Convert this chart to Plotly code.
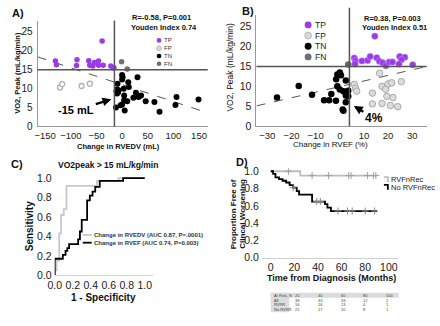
import plotly.graph_objects as go
import numpy as np

W, H = 440, 326
def px(x): return x / W
def py(y): return 1 - y / H

FONT = "Liberation Sans, Arial, sans-serif"
PURPLE = "#9b3be8"

# ---------------- Panel A data ----------------
a_tp_x = [-130, -128, -88, -89, -65, -63, -57, -54, -46, -46, -37, -39, -22, -18, -16]
a_tp_y = [17.3, 16.3, 17.6, 16.1, 17.4, 16.2, 16.0, 16.9, 17.3, 16.2, 16.2, 22.6, 16.0, 15.5, 15.5]
a_fp_x = [-121, -117, -79, -63]
a_fp_y = [10.3, 11.2, 10.7, 11.3]
a_tn_x = [0, 1, 0, 30, 12, -9, 13, 3, -10, -11, -8, -10, -7, 4, 27, 32, 37, 22, 10, 4, 0, -3, 5, 63, 73, 106, 104, 149, -12, 46]
a_tn_y = [13.6, 13.0, 12.4, 13.0, 11.7, 11.3, 10.4, 10.0, 9.8, 9.3, 9.0, 8.7, 9.6, 8.2, 8.9, 7.8, 8.2, 7.6, 6.7, 6.9, 5.8, 5.6, 4.2, 6.5, 3.9, 7.8, 5.7, 7.1, 5.0, 6.7]
a_fn_x = [-1, 10]
a_fn_y = [17.1, 15.2]
a_fit_x = [-165, 167]
a_fit_y = [18.4, 3.6]
a_thr_x, a_thr_y = -15, 15
a_xticks = [-150, -100, -50, 0, 50, 100, 150]
a_yticks = [0, 5, 10, 15, 20, 25]

# ---------------- Panel B data ----------------
b_tp_x = [14.5, 6, 6.5, 6.3, 9.2, 11.5, 12.6, 15.3, 16.4, 17.8, 19.1, 20.5, 21.8, 24.8, 26.9, 25.5, 24.5, 30.2]
b_tp_y = [22.6, 17.1, 16.4, 15.6, 16.4, 16.5, 17.5, 17.2, 16.3, 15.9, 15.2, 16.1, 16.1, 17.5, 17.3, 16.7, 15.6, 15.4]
b_fp_x = [6, 6.5, 7, 16.5, 13.5, 17.5, 19, 20, 21.5, 19.5, 25.5, 22, 13.5, 17.5, 21, 24]
b_fp_y = [10.5, 9.5, 8.8, 13.3, 8.3, 10.0, 9.3, 10.6, 10.9, 7.5, 11.2, 7.2, 5.6, 5.7, 5.2, 4.9]
b_tn_x = [-26, -17, -11.5, -6.5, -4.4, -3.5, -1.6, -1, -1, 0, 0.5, -1.5, 2.5, 0, 1.5, 2.5, 3.5, 2.5, 3.5, 2.5, 1.2, 1.5]
b_tn_y = [7.2, 10.1, 7.9, 6.5, 6.5, 8.1, 6.4, 10.0, 13.0, 13.5, 12.8, 11.8, 11.5, 9.2, 8.8, 8.6, 8.9, 7.7, 7.5, 6.0, 4.2, 3.9]
b_fn_x = [3.5]
b_fn_y = [15.5]
b_fit_x = [-34.5, 36]
b_fit_y = [5.1, 15.0]
b_thr_x, b_thr_y = 4, 15
b_xticks = [-30, -20, -10, 0, 10, 20, 30]
b_yticks = [0, 5, 10, 15, 20, 25]

# ---------------- Panel C data (ROC) ----------------
c_edv_fpr = [0, 0.02, 0.05, 0.07, 0.10, 0.13, 0.47, 0.71, 1.0]
c_edv_tpr = [0, 0.05, 0.15, 0.43, 0.62, 0.68, 0.92, 0.97, 1.0]
c_ef_fpr = [0, 0.09, 0.12, 0.14, 0.16, 0.26, 0.28, 0.30, 0.36, 0.39, 0.42, 0.45, 0.50, 0.76, 1.0]
c_ef_tpr = [0, 0.17, 0.21, 0.25, 0.28, 0.32, 0.37, 0.45, 0.57, 0.77, 0.82, 0.86, 0.91, 0.97, 1.0]
c_ticks = [0, 0.2, 0.4, 0.6, 0.8, 1.0]

# ---------------- Panel D data (Kaplan-Meier) ----------------
d_rec_t = [0, 25, 90]
d_rec_s = [1.0, 0.95, 0.95]
d_rec_cens = [15, 35, 49, 66, 68, 82, 87, 89]
d_no_t = [0, 2, 4, 7, 10, 13, 16, 19, 22, 24, 35, 46, 48, 51, 90]
d_no_s = [1.0, 0.97, 0.93, 0.91, 0.89, 0.87, 0.84, 0.81, 0.77, 0.73, 0.65, 0.62, 0.58, 0.54, 0.54]
d_no_cens = [19, 39, 42, 57, 65, 69, 80, 88]
d_xticks = [0, 20, 40, 60, 80, 100]
d_yticks = [0, 0.2, 0.4, 0.6, 0.8, 1.0]
risk_times = [20, 40, 60, 80, 100]
risk_all = [38, 33, 33, 12, 2]
risk_rvrr = [16, 16, 13, 4, 1]
risk_norvrr = [22, 17, 20, 8, 1]

def step_at(ts, ss, t):
    i = int(np.searchsorted(ts, t, side="right")) - 1
    return ss[max(i, 0)]

fig = go.Figure()

def scat(x, y, ax, **kw):
    fig.add_trace(go.Scatter(x=x, y=y, xaxis="x" + ax, yaxis="y" + ax, showlegend=False,
                             hoverinfo="skip", **kw))

# Panel A
scat(a_fit_x, a_fit_y, "", mode="lines", line=dict(color="#555", width=1, dash="dash"))
scat(a_fp_x, a_fp_y, "", mode="markers", marker=dict(size=5, color="white", line=dict(color="#b0b0b0", width=1.3)))
scat(a_tp_x, a_tp_y, "", mode="markers", marker=dict(size=5.5, color=PURPLE))
scat(a_tn_x, a_tn_y, "", mode="markers", marker=dict(size=6, color="black"))
scat(a_fn_x, a_fn_y, "", mode="markers", marker=dict(size=5.5, color="#707070"))

# Panel B
scat(b_fit_x, b_fit_y, "2", mode="lines", line=dict(color="#555", width=1, dash="dash"))
scat(b_fp_x, b_fp_y, "2", mode="markers", marker=dict(size=6.5, color="#dcdcdc", line=dict(color="#a8a8a8", width=1)))
scat(b_tp_x, b_tp_y, "2", mode="markers", marker=dict(size=6.5, color=PURPLE, line=dict(color="#c9a0f5", width=0.5)))
scat(b_tn_x, b_tn_y, "2", mode="markers", marker=dict(size=6.5, color="black"))
scat(b_fn_x, b_fn_y, "2", mode="markers", marker=dict(size=6.5, color="#666"))

# Panel C
scat(c_edv_fpr, c_edv_tpr, "3", mode="lines", line=dict(color="#c8c8c8", width=1.8, shape="vh"))
scat(c_ef_fpr, c_ef_tpr, "3", mode="lines", line=dict(color="black", width=1.8, shape="vh"))

# Panel D
scat(d_rec_t, d_rec_s, "4", mode="lines", line=dict(color="#bdbdbd", width=1.8, shape="hv"))
scat(d_no_t, d_no_s, "4", mode="lines", line=dict(color="black", width=1.8, shape="hv"))
scat(d_rec_cens, [step_at(d_rec_t, d_rec_s, t) for t in d_rec_cens], "4", mode="markers",
     marker=dict(symbol="cross-thin", size=5, line=dict(color="#a0a0a0", width=1)))
scat(d_no_cens, [step_at(d_no_t, d_no_s, t) for t in d_no_cens], "4", mode="markers",
     marker=dict(symbol="cross-thin", size=5, line=dict(color="#888", width=1)))

tickfont = dict(family=FONT, size=10, color="#1a1a1a")
def xax(dom, rng, ticks, line_color="#999", fmt=None, size=10):
    d = dict(domain=[px(dom[0]), px(dom[1])], range=rng, tickvals=ticks, showgrid=False, zeroline=False,
             showline=True, linecolor=line_color, linewidth=1, ticks="", tickfont=dict(tickfont, size=size),
             ticklabelstandoff=0, fixedrange=True)
    if fmt: d["tickformat"] = fmt
    return d
def yax(dom, rng, ticks, showline=True, fmt=None, size=10):
    d = dict(domain=[py(dom[1]), py(dom[0])], range=rng, tickvals=ticks, showgrid=False, zeroline=False,
             showline=showline, linecolor="#999", linewidth=1, ticks="", tickfont=dict(tickfont, size=size),
             ticklabelstandoff=2, fixedrange=True)
    if fmt: d["tickformat"] = fmt
    return d

fig.update_layout(
    width=W, height=H, margin=dict(l=0, r=0, t=0, b=0),
    paper_bgcolor="white", plot_bgcolor="white", showlegend=False,
    font=dict(family=FONT, color="#111"),
    xaxis=dict(**xax((31, 204), [-165, 167], a_xticks, size=9.5), anchor="y"),
    yaxis=dict(**yax((18, 127), [0, 28], a_yticks), anchor="x"),
    xaxis2=dict(**xax((253.5, 426.5), [-34.5, 36], b_xticks, size=9.5), anchor="y2"),
    yaxis2=dict(**yax((12, 126.7), [0, 28], b_yticks, size=10.5), anchor="x2"),
    xaxis3=dict(**xax((48.5, 148), [0, 1.088], c_ticks, line_color="#d0d0d0", fmt=".1f", size=10.5), anchor="y3"),
    yaxis3=dict(**yax((175, 280), [0, 1.05], c_ticks, showline=False, fmt=".1f", size=10.5), anchor="x3"),
    xaxis4=dict(**xax((259, 397), [-7.5, 107.5], d_xticks, line_color="#d0d0d0", size=10.5), anchor="y4"),
    yaxis4=dict(**yax((170, 262), [0, 1.034], d_yticks, showline=False, fmt=".1f", size=10.5), anchor="x4"),
)

shapes = []
# threshold lines A
shapes.append(dict(type="line", xref="x", yref="paper", x0=a_thr_x, x1=a_thr_x, y0=py(127), y1=py(18),
                   line=dict(color="#555", width=1.5)))
shapes.append(dict(type="line", xref="paper", yref="y", x0=px(31), x1=px(204), y0=a_thr_y, y1=a_thr_y,
                   line=dict(color="#555", width=1.5)))
# threshold lines B
shapes.append(dict(type="line", xref="x2", yref="paper", x0=b_thr_x, x1=b_thr_x, y0=py(126.7), y1=py(5),
                   line=dict(color="#555", width=1.5)))
shapes.append(dict(type="line", xref="paper", yref="y2", x0=px(253.5), x1=px(426.5), y0=b_thr_y, y1=b_thr_y,
                   line=dict(color="#555", width=1.5)))

def circ(cx, cy, r, fill, edge=None, lw=0):
    shapes.append(dict(type="circle", xref="paper", yref="paper", x0=px(cx - r), x1=px(cx + r),
                       y0=py(cy + r), y1=py(cy - r), fillcolor=fill,
                       line=dict(color=edge or fill, width=lw)))

ann = []
def txt(x, y, s, size, bold=False, xanchor="center", color="#111", angle=0, yanchor="middle"):
    ann.append(dict(x=px(x), y=py(y), xref="paper", yref="paper", text=("<b>%s</b>" % s) if bold else s,
                    showarrow=False, xanchor=xanchor, yanchor=yanchor, textangle=angle,
                    font=dict(family=FONT, size=size, color=color)))

# Legend A
leg_labels = ["TP", "FP", "TN", "FN"]
leg_cols = [PURPLE, "#d8d8d8", "black", "#707070"]
for i, (lab, col) in enumerate(zip(leg_labels, leg_cols)):
    yy = 38.5 + i * 8
    circ(154.5, yy, 2.4, col, "#b0b0b0" if lab == "FP" else None, 0.8 if lab == "FP" else 0)
    txt(157.5, yy, lab, 6, xanchor="left", color="#333")
# Legend B
for i, (lab, col) in enumerate(zip(leg_labels, leg_cols)):
    yy = 22.5 + i * 11
    circ(306, yy, 3.5, col, "#aaa" if lab == "FP" else None, 0.8 if lab == "FP" else 0)
    txt(311, yy, lab, 8.5, xanchor="left", color="#222")

# Legend C
shapes.append(dict(type="line", xref="paper", yref="paper", x0=px(77), x1=px(86), y0=py(238.5), y1=py(238.5),
                   line=dict(color="#c8c8c8", width=1.8)))
shapes.append(dict(type="line", xref="paper", yref="paper", x0=px(77), x1=px(86), y0=py(246.5), y1=py(246.5),
                   line=dict(color="black", width=1.8)))
txt(86.5, 238.5, "Change in RVEDV (AUC 0.87, P=.0001)", 6, bold=True, xanchor="left", color="#333")
txt(86.5, 246.5, "Change in RVEF (AUC 0.74, P=0.003)", 6, bold=True, xanchor="left", color="#333")

# Legend D
shapes.append(dict(type="path", xref="paper", yref="paper",
                   path="M %f %f L %f %f L %f %f" % (px(383), py(179), px(387), py(179), px(387), py(184)),
                   line=dict(color="#bdbdbd", width=1.8)))
shapes.append(dict(type="path", xref="paper", yref="paper",
                   path="M %f %f L %f %f L %f %f" % (px(383), py(187), px(387), py(187), px(387), py(192)),
                   line=dict(color="black", width=1.8)))
txt(388.5, 181, "RVFnRec", 7.5, xanchor="left", color="#222")
txt(388.5, 189.5, "No RVFnRec", 7.5, xanchor="left", color="#222")

# Panel labels
txt(3, 10, "A)", 11, bold=True, xanchor="left")
txt(237, 8, "B)", 11, bold=True, xanchor="left")
txt(2, 166, "C)", 11, bold=True, xanchor="left")
txt(231, 163, "D)", 11, bold=True, xanchor="left")

# Stats text
txt(157, 15, "R=-0.58, P=0.001", 7.5, bold=True)
txt(159.5, 24.7, "Youden Index 0.74", 7.5, bold=True)
txt(391.5, 15.7, "R=0.38, P=0.003", 7.5, bold=True)
txt(394, 25.7, "Youden Index 0.51", 7.5, bold=True)

# Axis titles
txt(113, 147.5, "Change in RVEDV (mL)", 7.5, bold=True)
txt(10, 72, "VO2, Peak (mL/kg/min)", 7.5, bold=True, angle=-90)
txt(329, 146, "Change in RVEF (%)", 8)
txt(227, 66, "VO2, Peak (mL/kg/min)", 8.5, angle=-90)
txt(103, 167, "VO2peak &gt; 15 mL/kg/min", 8.5, bold=True)
txt(23, 230, "Sensitivity", 10, bold=True, angle=-90)
txt(98, 303, "1 - Specificity", 10, bold=True)
txt(230, 217, "Proportion Free of", 8, bold=True, angle=-90)
txt(238.5, 217, "Clincal Worsening", 8, bold=True, angle=-90)
txt(330, 283, "Time from Diagnosis (Months)", 9, bold=True)

# Arrows
ann.append(dict(x=px(106), y=py(99), xref="paper", yref="paper", ax=-35, ay=11, text="<b>-15 mL</b>",
                showarrow=True, arrowhead=2, arrowsize=0.8, arrowwidth=2.2, arrowcolor="black",
                font=dict(family=FONT, size=11, color="black")))
ann.append(dict(x=px(352.5), y=py(106), xref="paper", yref="paper", ax=20, ay=12, text="<b>4%</b>",
                showarrow=True, arrowhead=2, arrowsize=0.8, arrowwidth=2.2, arrowcolor="black",
                font=dict(family=FONT, size=12, color="black")))

# Risk table
tx0, tx1 = 268, 398
row_y = [300.5, 305.5, 310.5, 315.5]
shapes.append(dict(type="rect", xref="paper", yref="paper", x0=px(tx0), x1=px(tx1), y0=py(303), y1=py(298),
                   fillcolor="#dcdcdc", line=dict(width=0)))
shapes.append(dict(type="rect", xref="paper", yref="paper", x0=px(tx0), x1=px(287), y0=py(318), y1=py(298),
                   fillcolor="#dcdcdc", line=dict(width=0)))
col_x = [291, 314, 337, 360, 383]
rows = [("At Risk, N", risk_times), ("All", risk_all), ("RVRR", risk_rvrr), ("No RVRR", risk_norvrr)]
for (lab, vals), yy in zip(rows, row_y):
    txt(tx0 + 1, yy, lab, 4, xanchor="left", color="#444")
    for cx, v in zip(col_x, vals):
        txt(cx, yy, str(v), 4, xanchor="left", color="#444")

fig.update_layout(shapes=shapes, annotations=ann)
fig.write_html("out.html", config={"displayModeBar": False, "staticPlot": True},
               post_script="document.body.style.margin='0';document.body.style.overflow='hidden';")
